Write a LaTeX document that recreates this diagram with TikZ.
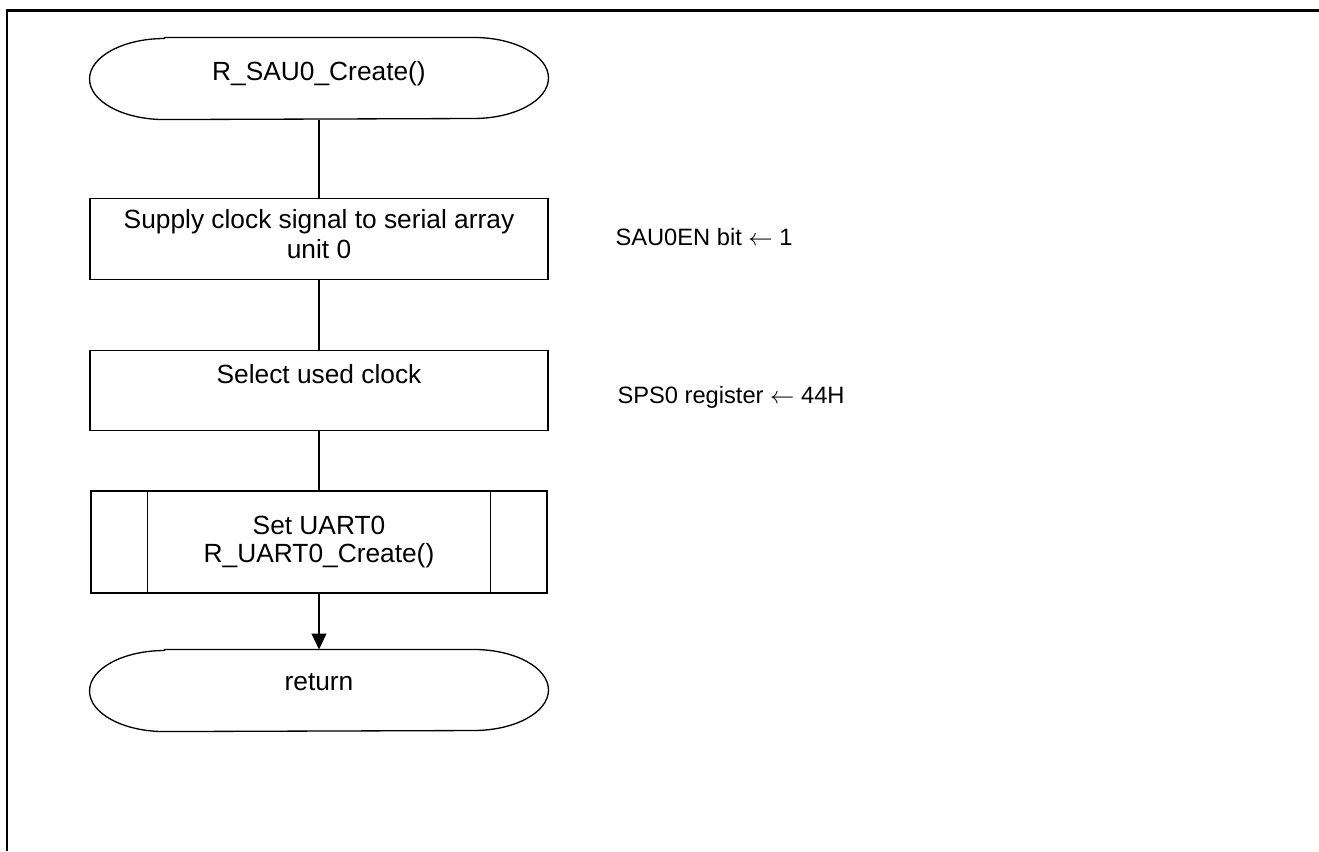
\documentclass[tikz,border=0pt]{standalone}
\usepackage{fontspec}
\setmainfont{Liberation Sans}
\usetikzlibrary{arrows.meta}

\tikzset{
  ->/.style={draw=black,line width=0.5pt,-{Triangle[length=6pt,width=5.6pt]}},
  flow/.style={draw=black,line width=0.5pt},
  proc/.style={flow,minimum width=174pt,minimum height=30.6pt},
  subproc/.style={proc,minimum width=173.3pt,minimum height=38.8pt},
  terminal/.style={minimum width=174pt,minimum height=30.8pt},
  note/.style={anchor=base west,font=\fontsize{9}{10.8}\selectfont}
}
\tikzstyle{every node}=[font=\fontsize{10}{11.4}\selectfont,align=center,inner sep=0pt]

% outline of a start/end box with elliptic ends
\newcommand{\termline}[1]{%
  \draw[flow] ([xshift=28.5pt]#1.north west) -- ([xshift=-28.5pt]#1.north east)
    arc[start angle=90,end angle=-90,x radius=28.5pt,y radius=15.4pt]
    -- ([xshift=28.5pt]#1.south west)
    arc[start angle=270,end angle=90,x radius=28.5pt,y radius=15.4pt] -- cycle;}

\begin{document}
\begin{tikzpicture}[x=0.38pt,y=-0.38pt]
    \useasboundingbox (0,0) rectangle (1319,851);
    \draw [line width=1pt] (1319,10.5) -- (7,10.5) -- (7,851);

    \node [terminal,text height=7.3pt,text depth=5.9pt] (start) at (319,78.5) {R\_SAU0\_Create()};
    \termline{start}
    \node [proc,text depth=4.2pt] (clk) at (319,239) {Supply clock signal to serial array\\unit 0};
    \node [proc,text height=7.5pt,text depth=13.2pt] (sel) at (319,390.5) {Select used clock};
    \node [subproc,font=\fontsize{10}{11}\selectfont] (uart) at (319,542) {Set UART0\\R\_UART0\_Create()};
    \draw [flow] ([xshift=21.7pt]uart.north west) -- ([xshift=21.7pt]uart.south west);
    \draw [flow] ([xshift=-21.7pt]uart.north east) -- ([xshift=-21.7pt]uart.south east);
    \node [terminal,text height=7pt,text depth=7pt] (ret) at (319,690.5) {return};
    \termline{ret}

    \node [note] (sau) at (615,245) {SAU0EN bit $\leftarrow$ 1};
    \node [note] (sps) at (617,403) {SPS0 register $\leftarrow$ 44H};

    \draw [flow] (start) -- (clk);
    \draw [flow] (clk) -- (sel);
    \draw [flow] (sel) -- (uart);
    \draw [->] (uart) -- (ret);
\end{tikzpicture}
\end{document}
